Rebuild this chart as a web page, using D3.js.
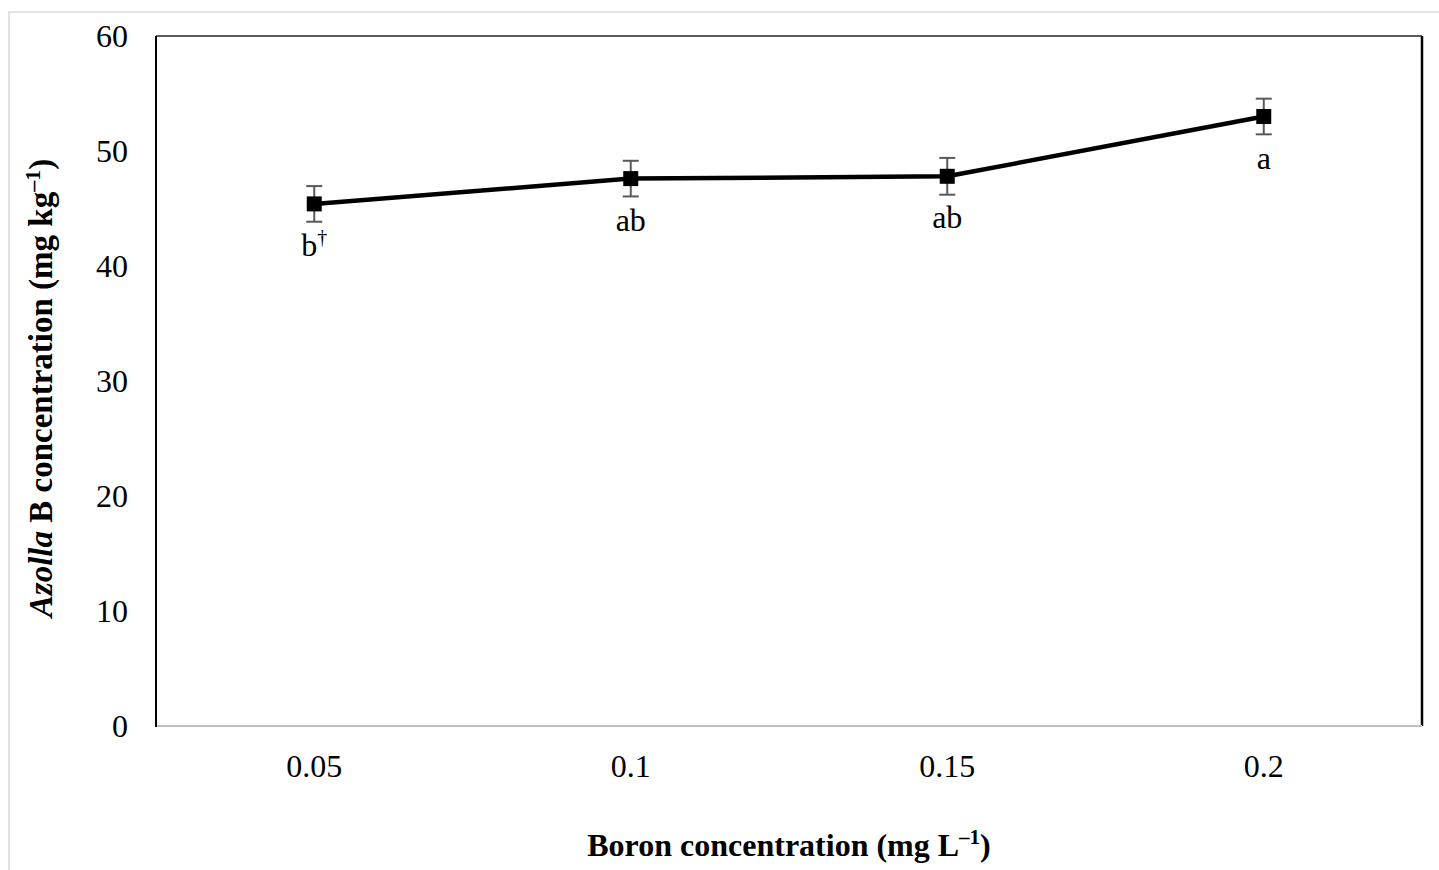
<!DOCTYPE html>
<html>
<head>
<meta charset="utf-8">
<script src="https://cdn.jsdelivr.net/npm/d3@7"></script>
<style>
  html, body { margin: 0; padding: 0; background: #fff; }
  svg { display: block; }
  text { font-family: "Liberation Serif", "Times New Roman", serif; fill: #000; }
</style>
</head>
<body>
<svg id="chart" width="1439" height="870"></svg>
<script>
// Boron treatment levels (mg L-1)
const categories = ["0.05", "0.1", "0.15", "0.2"];
// Mean Azolla B concentration (mg kg-1)
const means = [45.4, 47.6, 47.8, 53.0];
// Standard error of each mean
const errors = [1.55, 1.55, 1.6, 1.55];
// Significance letters
const letters = ["b", "ab", "ab", "a"];
const letterMarks = ["†", "", "", ""];
// Y axis ticks
const yTicks = [0, 10, 20, 30, 40, 50, 60];

const svg = d3.select("#chart");
const plot = { left: 156, right: 1422, top: 36, bottom: 726 };

// outer chart frame
svg.append("rect")
  .attr("x", 9).attr("y", 12)
  .attr("width", 1460).attr("height", 900)
  .attr("fill", "#fff")
  .attr("stroke", "#d9d9d9").attr("stroke-width", 1.5);

const x = d3.scaleBand().domain(categories).range([plot.left, plot.right]).padding(0);
const y = d3.scaleLinear().domain([0, 60]).range([plot.bottom, plot.top]);
const cx = c => x(c) + x.bandwidth() / 2;

// plot area frame
const frame = svg.append("g");
frame.append("line").attr("x1", plot.left).attr("x2", plot.right)
  .attr("y1", plot.top).attr("y2", plot.top)
  .attr("stroke", "#262626").attr("stroke-width", 1.5);
frame.append("line").attr("x1", plot.right).attr("x2", plot.right)
  .attr("y1", plot.top).attr("y2", plot.bottom)
  .attr("stroke", "#000").attr("stroke-width", 2.5);
frame.append("line").attr("x1", plot.left).attr("x2", plot.right)
  .attr("y1", plot.bottom).attr("y2", plot.bottom)
  .attr("stroke", "#bfbfbf").attr("stroke-width", 2);
frame.append("line").attr("x1", plot.left).attr("x2", plot.left)
  .attr("y1", plot.top).attr("y2", plot.bottom + 1)
  .attr("stroke", "#000").attr("stroke-width", 2);

// Y axis
const yAxis = svg.append("g")
  .attr("transform", `translate(${plot.left},0)`)
  .call(d3.axisLeft(y).tickValues(yTicks).tickSize(0).tickPadding(28).tickFormat(d3.format("d")));
yAxis.select(".domain").remove();
yAxis.selectAll("text")
  .attr("font-family", "Liberation Serif, serif")
  .attr("font-size", 32).attr("fill", "#000");

// X axis
const xAxis = svg.append("g")
  .attr("transform", `translate(0,${plot.bottom})`)
  .call(d3.axisBottom(x).tickSize(0).tickPadding(28));
xAxis.select(".domain").remove();
xAxis.selectAll("text")
  .attr("font-family", "Liberation Serif, serif")
  .attr("font-size", 32).attr("fill", "#000");

const data = categories.map((c, i) => ({ c, m: means[i], e: errors[i], l: letters[i], s: letterMarks[i] }));

// error bars
const eb = svg.append("g").attr("stroke", "#595959").attr("stroke-width", 2);
data.forEach(d => {
  const px = cx(d.c);
  eb.append("line").attr("x1", px).attr("x2", px).attr("y1", y(d.m + d.e)).attr("y2", y(d.m - d.e));
  eb.append("line").attr("x1", px - 8).attr("x2", px + 8).attr("y1", y(d.m + d.e)).attr("y2", y(d.m + d.e));
  eb.append("line").attr("x1", px - 8).attr("x2", px + 8).attr("y1", y(d.m - d.e)).attr("y2", y(d.m - d.e));
});

// mean line
svg.append("path")
  .datum(data)
  .attr("fill", "none").attr("stroke", "#000").attr("stroke-width", 4.5)
  .attr("stroke-linejoin", "round")
  .attr("d", d3.line().x(d => cx(d.c)).y(d => y(d.m)));

// square markers
svg.append("g").selectAll("rect").data(data).join("rect")
  .attr("x", d => cx(d.c) - 7.5).attr("y", d => y(d.m) - 7.5)
  .attr("width", 15).attr("height", 15).attr("fill", "#000");

// significance letters
const lt = svg.append("g").selectAll("text").data(data).join("text")
  .attr("x", d => cx(d.c)).attr("y", d => y(d.m) + 52)
  .attr("text-anchor", "middle").attr("font-size", 32);
lt.append("tspan").text(d => d.l);
lt.filter(d => d.s).append("tspan").attr("font-size", 20).attr("dy", -12).text(d => d.s);

// X axis title
const xt = svg.append("text")
  .attr("x", (plot.left + plot.right) / 2).attr("y", 856)
  .attr("text-anchor", "middle").attr("font-size", 32).attr("font-weight", "bold");
xt.append("tspan").text("Boron concentration (mg L");
xt.append("tspan").attr("font-size", 21).attr("dy", -12).text("–1");
xt.append("tspan").attr("dy", 12).text(")");

// Y axis title
const yt = svg.append("text")
  .attr("transform", `translate(52,${(plot.top + plot.bottom) / 2 + 7}) rotate(-90)`)
  .attr("text-anchor", "middle").attr("font-size", 33).attr("font-weight", "bold");
yt.append("tspan").attr("font-style", "italic").text("Azolla");
yt.append("tspan").text(" B concentration (mg kg");
yt.append("tspan").attr("font-size", 22).attr("dy", -12).text("–1");
yt.append("tspan").attr("dy", 12).text(")");
</script>
</body>
</html>
